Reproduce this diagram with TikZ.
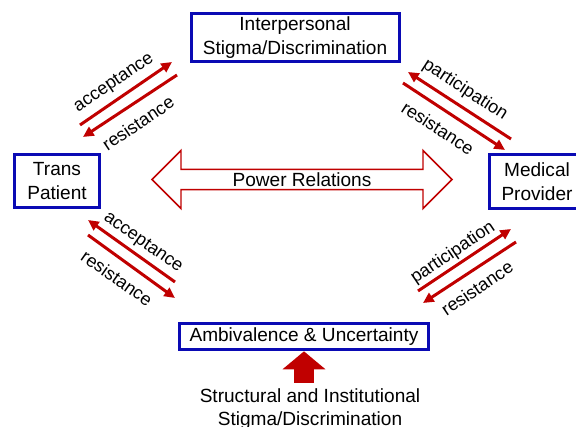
\documentclass[tikz,border=0pt]{standalone}
\usepackage{fontspec}
\setmainfont{Liberation Sans}
\usepackage{tikz}
\usetikzlibrary{arrows.meta,shapes.arrows}
\definecolor{boxblue}{RGB}{10,10,180}
\definecolor{darkred}{RGB}{192,0,0}

\begin{document}
\begin{tikzpicture}[x=0.75pt, y=-0.75pt,
  box/.style={draw=boxblue, line width=2.25pt, align=center, inner sep=0pt,
    font=\fontsize{14.3}{18}\selectfont},
  rel/.style={draw=darkred, line width=2.25pt, -{Triangle[length=8pt,width=7.5pt]}},
  lbl/.style={font=\fontsize{13.5}{16}\selectfont, inner sep=0pt}]
  \useasboundingbox (0,0) rectangle (576,427);
  \node[box, minimum width=156pt, minimum height=36pt] (ip) at (295,37.5)
    {Interpersonal\\Stigma/Discrimination};
  \node[box, minimum width=63.75pt, minimum height=39.75pt] (tp) at (57,181)
    {Trans\\Patient};
  \node[box, minimum width=71.25pt, minimum height=40.5pt] (mp) at (537,181.5)
    {Medical\\Provider};
  \node[box, minimum width=187pt, minimum height=20pt] (av) at (304,336.5)
    {Ambivalence \& Uncertainty};
  \node[shape=double arrow, draw=darkred, line width=1.1pt, fill=white,
    minimum height=225pt, minimum width=43.5pt, double arrow head extend=10.9pt,
    double arrow head indent=0pt, inner sep=0pt,
    font=\fontsize{14.3}{18}\selectfont] (pr) at (302,179.5) {Power Relations};
  \node[anchor=north, align=center, inner sep=0pt,
    font=\fontsize{14.3}{17.5}\selectfont] (sd) at (310,388)
    {Structural and Institutional\\Stigma/Discrimination};
  \draw[darkred, line width=15pt, shorten <=3.75pt,
    -{Triangle[length=13.5pt,width=31.5pt]}]
    (sd.north -| av.south) -- (av.south);

  \coordinate (p1) at (80,125);   \coordinate (q1) at (172,62);
  \coordinate (p2) at (177,75);   \coordinate (q2) at (83,137);
  \coordinate (p3) at (511,139);  \coordinate (q3) at (408,72);
  \coordinate (p4) at (403,83);   \coordinate (q4) at (505,150);
  \coordinate (p5) at (175,282);  \coordinate (q5) at (88,220);
  \coordinate (p6) at (88,235);   \coordinate (q6) at (175,298);
  \coordinate (p7) at (418,291);  \coordinate (q7) at (511,229);
  \coordinate (p8) at (516,242);  \coordinate (q8) at (423,303);
  \draw[rel] (p1) -- (q1);
  \draw[rel] (p2) -- (q2);
  \draw[rel] (p3) -- (q3);
  \draw[rel] (p4) -- (q4);
  \draw[rel] (p5) -- (q5);
  \draw[rel] (p6) -- (q6);
  \draw[rel] (p7) -- (q7);
  \draw[rel] (p8) -- (q8);

  \node[lbl, rotate=34] (l1) at (114,83) {acceptance};
  \node[lbl, rotate=34] (l2) at (138,123) {resistance};
  \node[lbl, rotate=-33] (l3) at (465,90) {participation};
  \node[lbl, rotate=-33] (l4) at (438,128) {resistance};
  \node[lbl, rotate=-35] (l5) at (143,243) {acceptance};
  \node[lbl, rotate=-35] (l6) at (117,278) {resistance};
  \node[lbl, rotate=34] (l7) at (453,253) {participation};
  \node[lbl, rotate=34] (l8) at (477,288) {resistance};
\end{tikzpicture}
\end{document}
